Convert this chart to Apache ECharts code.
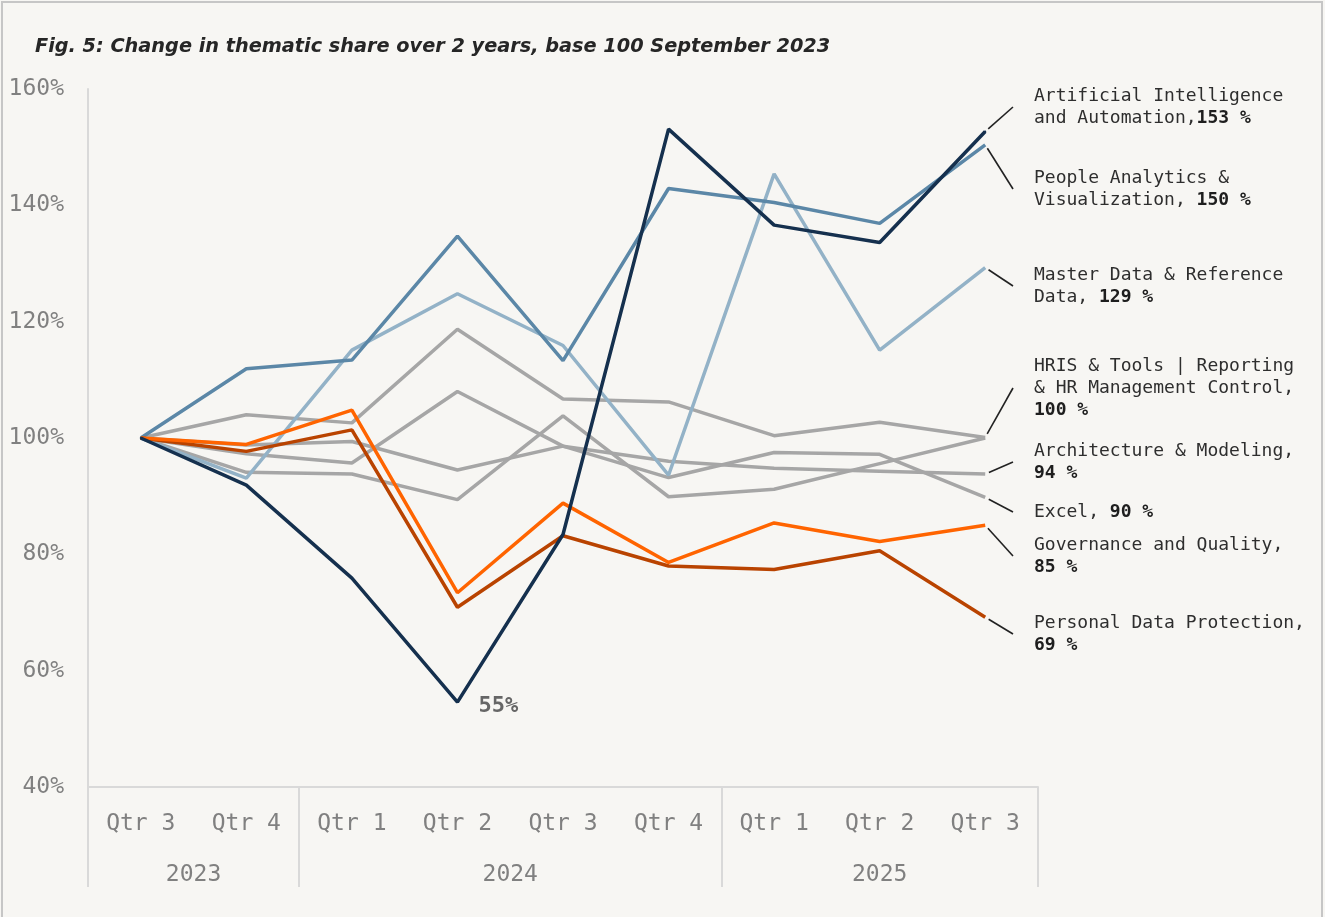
<!DOCTYPE html>
<html>
<head>
<meta charset="utf-8">
<title>Thematic share</title>
<style>
    html, body { margin: 0; padding: 0; background: #f7f6f3; }
    #chart { width: 1325px; height: 917px; }
</style>
<script src="https://cdn.jsdelivr.net/npm/echarts@6/dist/echarts.min.js"></script>
</head>
<body>
<div id="chart"></div>
<script>
// categories
var quarters = ['Qtr 3', 'Qtr 4', 'Qtr 1', 'Qtr 2', 'Qtr 3', 'Qtr 4', 'Qtr 1', 'Qtr 2', 'Qtr 3'];
var years = ['2023', '2024', '2025'];
var quartersPerYear = [2, 4, 3];

// series values (base 100 = Sep 2023)
var aiAutomation   = [100, 91.9, 75.9, 54.6, 83.4, 153.1, 136.6, 133.6, 152.7];
var peopleAnalytics = [100, 111.9, 113.4, 134.7, 113.3, 142.9, 140.5, 136.9, 150.4];
var masterData     = [100, 93.1, 115.1, 124.8, 115.9, 93.6, 145.4, 115.1, 129.3];
var hrisTools      = [100, 104.0, 102.6, 118.7, 106.7, 106.2, 100.4, 102.7, 100.1];
var architecture   = [100, 98.8, 99.4, 94.5, 98.6, 96.0, 94.8, 94.3, 93.8];
var excel          = [100, 97.3, 95.7, 108.0, 98.6, 93.2, 97.5, 97.2, 89.8];
var otherTopic     = [100, 94.1, 93.8, 89.4, 103.8, 89.9, 91.2, 95.6, 100.0];
var governance     = [100, 98.9, 104.8, 73.4, 88.8, 78.6, 85.4, 82.2, 85.0];
var dataProtection = [100, 97.7, 101.4, 70.9, 83.2, 78.0, 77.4, 80.6, 69.2];

var MONO = 'DejaVu Sans Mono';
var GRID_L = 88, GRID_R = 287, GRID_T = 89, GRID_B = 130;

// year group boundaries / centres on a 0..9 scale
var yearBounds = [0], yearCenters = [];
quartersPerYear.forEach(function (n, i) {
    yearCenters.push(yearBounds[i] + n / 2);
    yearBounds.push(yearBounds[i] + n);
});

// lines drawn back to front
var lines = [
    {name: 'Other topics', data: otherTopic, color: '#a6a6a6'},
    {name: 'Excel', data: excel, color: '#a6a6a6'},
    {name: 'Architecture & Modeling', data: architecture, color: '#a6a6a6'},
    {name: 'HRIS & Tools | Reporting & HR Management Control', data: hrisTools, color: '#a6a6a6'},
    {name: 'Master Data & Reference Data', data: masterData, color: '#93b2c7'},
    {name: 'People Analytics & Visualization', data: peopleAnalytics, color: '#5b87a7'},
    {name: 'Personal Data Protection', data: dataProtection, color: '#b94300'},
    {name: 'Governance and Quality', data: governance, color: '#ff6400'},
    {name: 'Artificial Intelligence and Automation', data: aiAutomation, color: '#15304e'}
];

// end labels: series, text (value appended in bold)
var endLabels = [
    {data: aiAutomation, text: 'Artificial Intelligence\nand Automation,'},
    {data: peopleAnalytics, text: 'People Analytics &\nVisualization, '},
    {data: masterData, text: 'Master Data & Reference\nData, '},
    {data: hrisTools, text: 'HRIS & Tools | Reporting\n& HR Management Control,\n'},
    {data: architecture, text: 'Architecture & Modeling,\n'},
    {data: excel, text: 'Excel, '},
    {data: governance, text: 'Governance and Quality,\n'},
    {data: dataProtection, text: 'Personal Data Protection,\n'}
];
// label centre y (layout)
var labelY = [107, 189, 286, 388, 462, 512, 556, 634];
var LABEL_X = 1034, LEADER_X = 1013;

var last = quarters.length - 1;

var chart = echarts.init(document.getElementById('chart'));

var series = lines.map(function (l) {
    var s = {
        name: l.name,
        type: 'line',
        data: l.data,
        symbol: 'none',
        lineStyle: {color: l.color, width: 3.5},
        itemStyle: {color: l.color},
        emphasis: {disabled: true},
        z: 2
    };
    if (l.data === aiAutomation) {
        // low point label
        var lowIdx = l.data.indexOf(Math.min.apply(null, l.data));
        s.symbol = 'circle';
        s.symbolSize = 2;
        s.showSymbol = true;
        s.data = l.data.map(function (v, i) {
            if (i !== lowIdx) return v;
            return {
                value: v,
                label: {
                    show: true,
                    position: 'right',
                    distance: 20,
                    offset: [0, 4],
                    formatter: function (p) { return Math.round(p.value) + '%'; },
                    fontFamily: MONO,
                    fontSize: 22,
                    fontWeight: 'bold',
                    color: '#666666'
                }
            };
        });
    }
    return s;
});

// end labels with leader lines
series.push({
    type: 'custom',
    coordinateSystem: 'cartesian2d',
    clip: false,
    silent: true,
    z: 5,
    data: endLabels.map(function (e, k) { return [last, e.data[last], k]; }),
    renderItem: function (params, api) {
        var k = api.value(2);
        var p = api.coord([api.value(0), api.value(1)]);
        var ty = labelY[k];
        var dx = LEADER_X - p[0], dy = ty - p[1];
        var len = Math.sqrt(dx * dx + dy * dy);
        var sx = p[0] + dx / len * 4, sy = p[1] + dy / len * 4;
        var parts = endLabels[k].text.split('\n');
        var val = '{b|' + Math.round(api.value(1)) + ' %}';
        var txt = parts.map(function (line, i) {
            var out = line ? '{n|' + line + '}' : '';
            if (i === parts.length - 1) out += val;
            return out;
        }).join('\n');
        return {
            type: 'group',
            children: [
                {
                    type: 'line',
                    shape: {x1: sx, y1: sy, x2: LEADER_X, y2: ty},
                    style: {stroke: '#222222', lineWidth: 1.6}
                },
                {
                    type: 'text',
                    x: LABEL_X,
                    y: ty,
                    style: {
                        text: txt,
                        align: 'left',
                        verticalAlign: 'middle',
                        rich: {
                            n: {fontFamily: MONO, fontSize: 18, lineHeight: 22, fill: '#2e2e2e'},
                            b: {fontFamily: MONO, fontSize: 18, lineHeight: 22, fontWeight: 'bold', fill: '#1e1e1e'}
                        }
                    }
                }
            ]
        };
    }
});

var option = {
    backgroundColor: '#f7f6f3',
    animation: false,
    title: {
        text: 'Fig. 5: Change in thematic share over 2 years, base 100 September 2023',
        left: 30,
        top: 32,
        textStyle: {
            fontFamily: 'DejaVu Sans',
            fontSize: 19.3,
            fontWeight: 'bold',
            fontStyle: 'italic',
            color: '#262626'
        }
    },
    graphic: [{
        type: 'rect',
        silent: true,
        shape: {x: 2, y: 2, width: 1320, height: 960},
        style: {fill: 'none', stroke: '#c6c6c6', lineWidth: 2}
    }],
    grid: {left: GRID_L, right: GRID_R, top: GRID_T, bottom: GRID_B, outerBoundsMode: 'none'},
    xAxis: [
        {
            type: 'category',
            position: 'bottom',
            data: quarters,
            boundaryGap: true,
            axisLine: {lineStyle: {color: '#d9d9d9', width: 2}},
            axisTick: {show: false},
            axisLabel: {interval: 0, margin: 26, fontFamily: MONO, fontSize: 23, color: '#808080'}
        },
        {
            type: 'value',
            position: 'bottom',
            min: 0,
            max: quarters.length,
            axisLine: {show: false},
            splitLine: {show: false},
            axisTick: {
                show: true,
                customValues: yearBounds,
                length: 100,
                lineStyle: {color: '#d9d9d9', width: 2}
            },
            axisLabel: {
                customValues: yearCenters,
                margin: 77,
                fontFamily: MONO,
                fontSize: 23,
                color: '#808080',
                formatter: function (v) {
                    var i = yearCenters.indexOf(v);
                    return i >= 0 ? years[i] : '';
                }
            }
        }
    ],
    yAxis: {
        type: 'value',
        min: 40,
        max: 160,
        interval: 20,
        axisLine: {show: true, lineStyle: {color: '#d9d9d9', width: 2}},
        axisTick: {show: false},
        splitLine: {show: false},
        axisLabel: {
            formatter: '{value}%',
            margin: 24,
            fontFamily: MONO,
            fontSize: 23,
            color: '#808080'
        }
    },
    series: series
};

chart.setOption(option);
</script>
</body>
</html>
